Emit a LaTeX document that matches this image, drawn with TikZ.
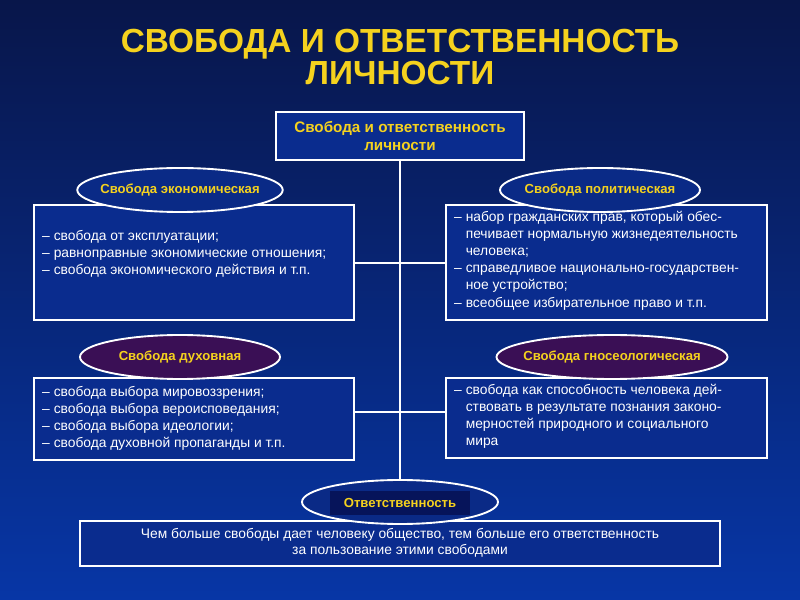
\documentclass[tikz,border=0pt]{standalone}
\usepackage{fontspec}
\setmainfont{Liberation Sans}
\usetikzlibrary{shapes.geometric,positioning}
\definecolor{bgtop}{HTML}{08164A}
\definecolor{bgbot}{HTML}{0736A6}
\definecolor{boxfill}{HTML}{0A2C8E}
\definecolor{ovalblue}{HTML}{0A2A86}
\definecolor{ovalpurple}{HTML}{3A0F55}
\definecolor{gold}{HTML}{F5D21E}
\definecolor{navy}{HTML}{06145A}

\begin{document}
\begin{tikzpicture}[x=0.03cm,y=-0.03cm,
    infobox/.style={draw=white,line width=1.6pt,fill=boxfill,inner sep=0pt},
    oval/.style={ellipse,draw=white,line width=1.6pt,inner xsep=-6pt,inner ysep=0pt,minimum width=200*0.03cm,minimum height=44*0.03cm,font=\bfseries\fontsize{11.2}{13}\selectfont,text=gold},
    body/.style={text=white,font=\fontsize{11.8}{14.6}\selectfont,align=left,anchor=north west,inner sep=0pt},
    link/.style={draw=white,line width=1.2pt}
  ]
    % background
    \shade[top color=bgtop,bottom color=bgbot] (0,0) rectangle (800,600);
    \useasboundingbox (0,0) rectangle (800,600);

    % title
    \node[font=\bfseries\fontsize{28.5}{28}\selectfont,text=gold,align=center] (title) at (400,57) {СВОБОДА И ОТВЕТСТВЕННОСТЬ\\ЛИЧНОСТИ};

    % top box
    \draw[infobox] (276,112) rectangle (524,160);
    \node[font=\bfseries\fontsize{13}{15}\selectfont,text=gold,align=center] (top) at (400,136) {Свобода и ответственность\\личности};
    \coordinate (topb) at (400,160);
    \coordinate (spine) at (400,482);
    \draw[link] (topb) -- (spine);

    % economic
    \draw[infobox] (34,205) rectangle (354,320);
    \node[body] (econ) at (42,230) {– свобода от эксплуатации;\\– равноправные экономические отношения;\\– свобода экономического действия и т.п.};
    \coordinate (econr) at (354,263);
    \coordinate (econj) at (400,263);
    \draw[link] (econr) -- (econj);
    \node[oval,fill=ovalblue] (econo) at (180,190) {Свобода экономическая};

    % political
    \draw[infobox] (446,205) rectangle (767,320);
    \node[body] (pol) at (454,211) {– набор гражданских прав, который обес-\\\phantom{– }печивает нормальную жизнедеятельность\\\phantom{– }человека;\\– справедливое национально-государствен-\\\phantom{– }ное устройство;\\– всеобщее избирательное право и т.п.};
    \coordinate (poll) at (446,263);
    \draw[link] (econj) -- (poll);
    \node[oval,fill=ovalblue] (polo) at (600,190) {Свобода политическая};

    % spiritual
    \draw[infobox] (34,378) rectangle (354,460);
    \node[body] (spir) at (42,386) {– свобода выбора мировоззрения;\\– свобода выбора вероисповедания;\\– свобода выбора идеологии;\\– свобода духовной пропаганды и т.п.};
    \coordinate (spirr) at (354,412);
    \coordinate (spirj) at (400,412);
    \draw[link] (spirr) -- (spirj);
    \node[oval,fill=ovalpurple] (spiro) at (180,357) {Свобода духовная};

    % gnoseological
    \draw[infobox] (446,378) rectangle (767,458);
    \node[body] (gnos) at (454,384) {– свобода как способность человека дей-\\\phantom{– }ствовать в результате познания законо-\\\phantom{– }мерностей природного и социального\\\phantom{– }мира};
    \coordinate (gnosl) at (446,412);
    \draw[link] (spirj) -- (gnosl);
    \node[oval,fill=ovalpurple,minimum width=212*0.03cm] (gnoso) at (612,357) {Свобода гносеологическая};

    % responsibility
    \draw[infobox] (80,521) rectangle (720,566);
    \node[text=white,font=\fontsize{11.8}{14}\selectfont,align=center] (resp) at (400,543) {Чем больше свободы дает человеку общество, тем больше его ответственность\\за пользование этими свободами};
    \node[oval,fill=ovalblue,minimum width=196*0.03cm] (respo) at (400,502) {};
    \node[fill=navy,font=\bfseries\fontsize{11.2}{13}\selectfont,text=gold,minimum width=140*0.03cm,minimum height=24*0.03cm] (resplbl) at (400,503) {Ответственность};
\end{tikzpicture}
\end{document}
